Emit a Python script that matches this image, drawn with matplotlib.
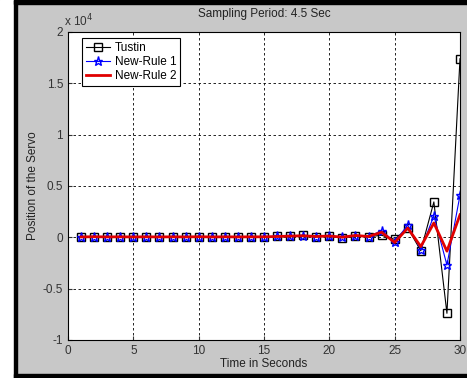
import numpy as np
import matplotlib
matplotlib.use('Agg')
import matplotlib.pyplot as plt
from matplotlib.patches import Rectangle
from matplotlib.ticker import FuncFormatter

# time axis and the three responses (servo position)
t = list(range(1, 31))
tustin = [50, 80, 40, 60, 30, 70, 40, 60, 50, 80, 30, 60, 40, 70, 50, 100, 150,
          200, 60, 150, -30, 130, 60, 200, -200, 900, -1300, 3450, -7400, 17400]
rule1 = [40, 70, 50, 60, 40, 60, 50, 60, 40, 70, 40, 60, 50, 60, 50, 90, 130,
         170, 80, 140, 0, 150, 60, 650, -450, 1200, -1200, 2100, -2700, 4100]
rule2 = [40, 60, 40, 50, 40, 50, 40, 50, 40, 60, 40, 50, 40, 50, 50, 80, 120,
         150, 80, 130, 20, 180, 80, 500, -500, 900, -900, 1400, -1350, 2200]

plt.rcParams['font.family'] = ['Liberation Sans', 'DejaVu Sans']

fig = plt.figure(figsize=(4.67, 3.78), dpi=100, facecolor='#c8c8c8')
W, H = 467.0, 378.0
# white strip at the left and the dark frame
fig.patches.append(Rectangle((0, 0), 14/W, 1, transform=fig.transFigure, color='white', zorder=-5))
fig.patches.append(Rectangle((14/W, 0), 3/W, 1, transform=fig.transFigure, color='black', zorder=-4))
fig.patches.append(Rectangle((14/W, 1-4/H), 1, 4/H, transform=fig.transFigure, color='black', zorder=-4))
fig.patches.append(Rectangle((14/W, 0), 1, 4/H, transform=fig.transFigure, color='black', zorder=-4))

ax = fig.add_axes([68/W, 1-340/H, (460-68)/W, (340-32)/H])
ax.set_facecolor('white')

ax.plot(t, tustin, color='black', lw=0.8, marker='s', ms=5.5, mfc='none', mec='black', label='Tustin')
ax.plot(t, rule1, color='blue', lw=0.8, marker='*', ms=6.5, mfc='none', mec='blue', label='New-Rule 1')
ax.plot(t, rule2, color='#e00000', lw=2, label='New-Rule 2')

ax.set_xlim(0, 30)
ax.set_ylim(-10000, 20000)
ax.set_xticks([0, 5, 10, 15, 20, 25, 30])
ax.set_yticks(np.arange(-10000, 20001, 5000))
ax.yaxis.set_major_formatter(FuncFormatter(lambda v, p: '%g' % (v / 1e4)))
ax.grid(True, color='black', linestyle=(0, (3, 3)), lw=0.6)
ax.tick_params(direction='in', length=3, labelsize=8.5, colors='#333333')
for s in ax.spines.values():
    s.set_linewidth(0.8)

ax.text(-0.3, 20300, 'x 10$^{4}$', fontsize=8.5, color='#333333', ha='left', va='bottom')
ax.set_title('Sampling Period: 4.5 Sec', fontsize=8.5, color='#222222', pad=11)
ax.set_xlabel('Time in Seconds', fontsize=8.5, color='#222222', labelpad=1)
ax.set_ylabel('Position of the Servo', fontsize=8.5, color='#222222', labelpad=3)

leg = ax.legend(loc='upper left', fontsize=8.5, fancybox=False, framealpha=1,
                edgecolor='black', borderpad=0.35, labelspacing=0.15,
                handlelength=2.0, handletextpad=0.4, borderaxespad=0,
                bbox_to_anchor=(0.036, 0.98))
leg.get_frame().set_linewidth(0.8)

plt.savefig('out.png', dpi=100, facecolor=fig.get_facecolor())
